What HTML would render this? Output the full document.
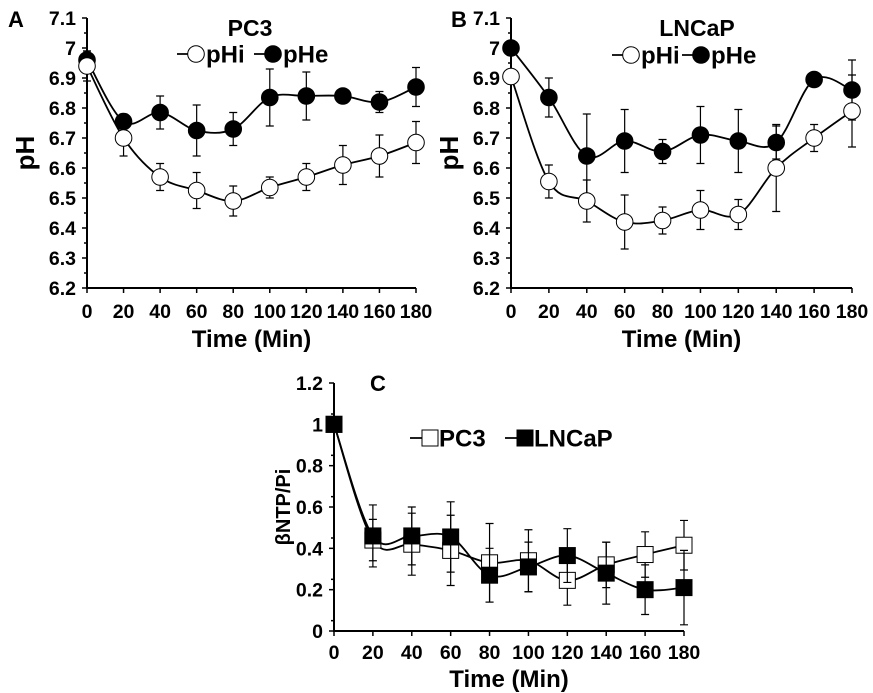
<!DOCTYPE html>
<html><head><meta charset="utf-8"><style>
body{margin:0;background:#fff}
svg{display:block;font-family:"Liberation Sans",Arial,sans-serif;font-weight:bold}
</style></head><body>
<svg id="fig" width="873" height="693" viewBox="0 0 873 693"></svg>
<script>
const times=[0,20,40,60,80,100,120,140,160,180];
const aPHi=[6.94,6.70,6.57,6.525,6.49,6.535,6.57,6.61,6.64,6.685];
const aPHiErr=[0.05,0.06,0.045,0.06,0.05,0.035,0.045,0.065,0.07,0.07];
const aPHe=[6.96,6.755,6.785,6.725,6.73,6.835,6.84,6.84,6.82,6.87];
const aPHeErr=[0.03,0.025,0.055,0.085,0.055,0.095,0.08,0.02,0.035,0.065];
const bPHi=[6.905,6.555,6.49,6.42,6.425,6.46,6.445,6.60,6.70,6.79];
const bPHiErr=[0.01,0.055,0.07,0.09,0.045,0.065,0.05,0.145,0.045,0.12];
const bPHe=[7.0,6.835,6.64,6.69,6.655,6.71,6.69,6.685,6.895,6.86];
const bPHeErr=[0.015,0.065,0.14,0.105,0.04,0.095,0.105,0.055,0.01,0.1];
const cPC3=[1.0,0.44,0.42,0.39,0.33,0.34,0.245,0.32,0.37,0.415];
const cPC3Err=[0,0.1,0.15,0.17,0.19,0.15,0.12,0.11,0.11,0.12];
const cLN=[1.0,0.46,0.46,0.455,0.27,0.31,0.365,0.28,0.20,0.21];
const cLNErr=[0,0.15,0.14,0.17,0.13,0.12,0.13,0.15,0.12,0.18];
const phTicks=["6.2","6.3","6.4","6.5","6.6","6.7","6.8","6.9","7","7.1"];
const cTicks=["0","0.2","0.4","0.6","0.8","1","1.2"];
const xTicks=["0","20","40","60","80","100","120","140","160","180"];

const svg=document.getElementById('fig');
const NS='http://www.w3.org/2000/svg';
function mk(tag,attrs,parent,text){const e=document.createElementNS(NS,tag);for(const k in attrs)e.setAttribute(k,attrs[k]);if(text!==undefined)e.textContent=text;(parent||svg).appendChild(e);return e;}
function smooth(pts){let d=`M${pts[0][0]},${pts[0][1]}`;for(let i=0;i<pts.length-1;i++){const p0=pts[Math.max(0,i-1)],p1=pts[i],p2=pts[i+1],p3=pts[Math.min(pts.length-1,i+2)];const t=0.17;d+=` C${p1[0]+(p2[0]-p0[0])*t},${p1[1]+(p2[1]-p0[1])*t} ${p2[0]-(p3[0]-p1[0])*t},${p2[1]-(p3[1]-p1[1])*t} ${p2[0]},${p2[1]}`;}return d;}

function panel(o){
  const g=mk('g',{});
  
  
  const X=t=>o.x0+(t-0)/180*(o.x1-o.x0);
  const Y=v=>o.y1-(v-o.vmin)/(o.vmax-o.vmin)*(o.y1-o.y0);
  const ax=mk('path',{d:`M${o.x0},${o.y0}V${o.y1}H${o.x1}`,stroke:'#000','stroke-width':2,fill:'none'},g);
  
  o.yTicks.forEach((lab,i)=>{const v=parseFloat(lab);const y=Y(v);
    mk('line',{x1:o.x0-5,x2:o.x0,y1:y,y2:y,stroke:'#000','stroke-width':1.5},g);
    if(i<o.yTicks.length-1){const ym=Y(v+o.step/2);mk('line',{x1:o.x0-3,x2:o.x0,y1:ym,y2:ym,stroke:'#000','stroke-width':1.5},g);}
    const t=mk('text',{x:o.x0-11,y:y+7,'text-anchor':'end','font-size':19.5},g,lab);
    });
  xTicks.forEach(lab=>{const x=X(parseFloat(lab));
    mk('line',{x1:x,x2:x,y1:o.y1,y2:o.y1+5,stroke:'#000','stroke-width':1.5},g);
    const t=mk('text',{x:x,y:o.y1+o.xlOff,'text-anchor':'middle','font-size':19.5},g,lab);
    });
  const xt=mk('text',{x:(o.x0+o.x1)/2,y:o.y1+o.xtOff,'text-anchor':'middle','font-size':24},g,'Time (Min)');
  
  const yt=mk('text',{x:0,y:0,'text-anchor':'middle','font-size':o.ytSize,transform:`translate(${o.ytx},${(o.y0+o.y1)/2}) rotate(-90)`},g,o.ytitle);
  
  o.series.forEach(s=>{
    const sg=mk('g',{},g);
    
    s.vals.forEach((v,i)=>{const x=X(times[i]);const e=s.err[i];if(e>0){
      mk('path',{d:`M${x},${Y(v-e)}V${Y(v+e)}M${x-4},${Y(v+e)}H${x+4}M${x-4},${Y(v-e)}H${x+4}`,stroke:'#000','stroke-width':1.2,fill:'none'},sg);}});
    mk('path',{d:smooth(s.vals.map((v,i)=>[X(times[i]),Y(v)])),stroke:'#000','stroke-width':1.8,fill:'none'},sg);
    s.vals.forEach((v,i)=>{const x=X(times[i]),y=Y(v);let m;
      if(s.shape==='c')m=mk('circle',{cx:x,cy:y,r:8.3,fill:s.fill,stroke:'#000','stroke-width':1},sg);
      else m=mk('rect',{x:x-8,y:y-8,width:16,height:16,fill:s.fill,stroke:'#000','stroke-width':1},sg);
      });
  });
}

panel({name:'panel-a-pc3',x0:87,x1:416,y0:18,y1:288,vmin:6.2,vmax:7.1,step:0.1,yTicks:phTicks,ytitle:'pH',ytx:34,ytSize:26,xlOff:30,xtOff:59,
  series:[{name:'pHe-series',vals:aPHe,err:aPHeErr,shape:'c',fill:'#000'},{name:'pHi-series',vals:aPHi,err:aPHiErr,shape:'c',fill:'#fff'}]});
panel({name:'panel-b-lncap',x0:511,x1:852,y0:18,y1:288,vmin:6.2,vmax:7.1,step:0.1,yTicks:phTicks,ytitle:'pH',ytx:458,ytSize:26,xlOff:30,xtOff:59,
  series:[{name:'pHe-series',vals:bPHe,err:bPHeErr,shape:'c',fill:'#000'},{name:'pHi-series',vals:bPHi,err:bPHiErr,shape:'c',fill:'#fff'}]});
panel({name:'panel-c-ntp',x0:334,x1:684,y0:383,y1:631,vmin:0,vmax:1.2,step:0.1,yTicks:cTicks,ytitle:'βNTP/Pi',ytx:290,ytSize:20,xlOff:28,xtOff:56,
  series:[{name:'pc3-series',vals:cPC3,err:cPC3Err,shape:'s',fill:'#fff'},{name:'lncap-series',vals:cLN,err:cLNErr,shape:'s',fill:'#000'}]});

function label(x,y,txt,size,name,anchor){const t=mk('text',{x:x,y:y,'font-size':size,'text-anchor':anchor||'start'},svg,txt);
  return t;}
label(8,27,'A',22,'panel-label-a');label(451,27,'B',22,'panel-label-b');label(370,391,'C',22,'panel-label-c');
label(250,36,'PC3',23,'panel-a-title','middle');label(697,36,'LNCaP',23,'panel-b-title','middle');

function legItem(x,y,txt,shape,fill,name){const g=mk('g',{});
  
  mk('line',{x1:x,x2:x+26,y1:y,y2:y,stroke:'#000','stroke-width':1.8},g);
  if(shape==='c')mk('circle',{cx:x+19,cy:y,r:8.3,fill:fill,stroke:'#000'},g);
  else mk('rect',{x:x+12,y:y-8,width:16,height:16,fill:fill,stroke:'#000'},g);
  mk('text',{x:x+29,y:y+8.5,'font-size':24},g,txt);}
legItem(177,54,'pHi','c','#fff','legend-phi-a');legItem(254,54,'pHe','c','#000','legend-phe-a');
legItem(612,55,'pHi','c','#fff','legend-phi-b');legItem(682,55,'pHe','c','#000','legend-phe-b');
legItem(410,438,'PC3','s','#fff','legend-pc3');legItem(505,438,'LNCaP','s','#000','legend-lncap');
</script>
</body></html>
